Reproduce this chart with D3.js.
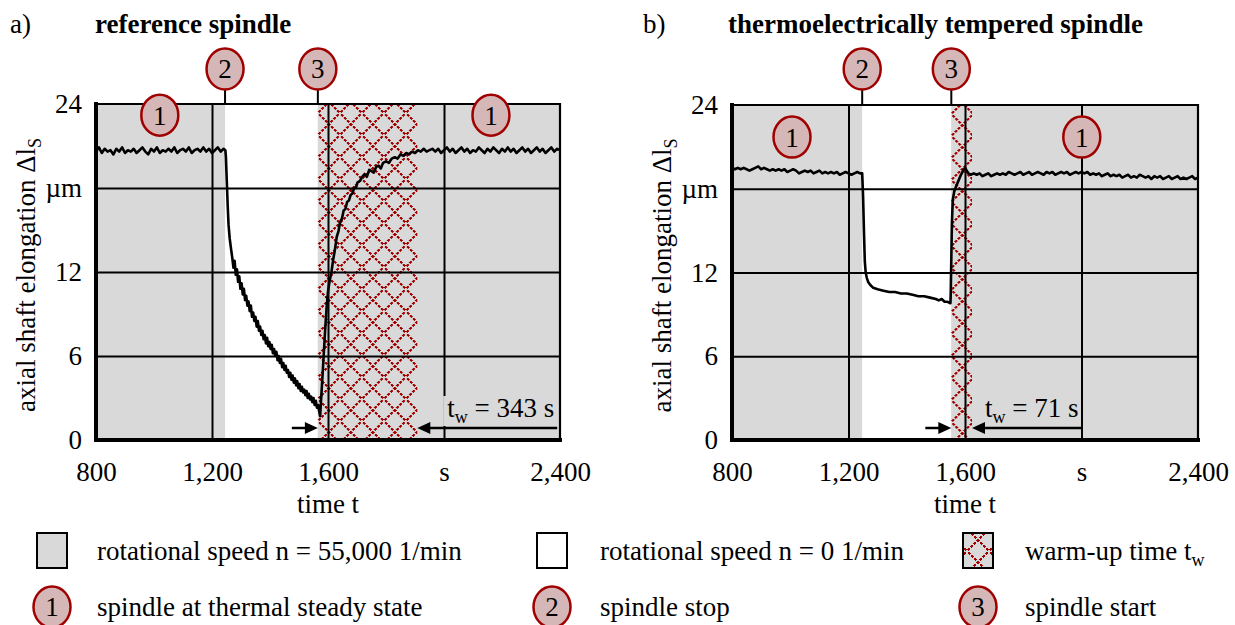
<!DOCTYPE html>
<html>
<head>
<meta charset="utf-8">
<script src="https://cdn.jsdelivr.net/npm/d3@7"></script>
<style>
body { margin: 0; background: #fff; }
text { font-family: "Liberation Serif", "Times New Roman", serif; fill: #000; }
</style>
</head>
<body>
<svg id="chart" width="1235" height="625"></svg>
<script>
// measured elongation, [time in s, elongation in µm]
var refData = [
  [800,20.6],[810,20.9],[820,20.5],[830,20.8],[840,20.6],[850,20.7],[860,20.4],[870,20.8],[880,20.6],[890,20.9],
  [900,20.5],[910,20.7],[920,20.6],[930,20.8],[940,20.5],[950,20.7],[960,20.9],[970,20.6],[980,20.4],[990,20.8],
  [1000,20.6],[1010,20.9],[1020,20.5],[1030,20.7],[1040,20.6],[1050,20.8],[1060,20.6],[1070,20.9],[1080,20.5],[1090,20.7],
  [1100,20.8],[1110,20.6],[1120,20.9],[1130,20.5],[1140,20.7],[1150,20.8],[1160,20.6],[1170,20.9],[1180,20.6],[1190,20.8],
  [1200,20.5],[1210,20.7],[1220,20.9],[1230,20.6],[1240,20.8],[1246,20.7],
  [1248,20.2],[1251,18.5],[1254,16.8],[1257,15.4],[1261,14.4],[1266,13.6],
  [1270,13.0],[1274,12.3],[1278,12.8],[1282,11.8],[1286,12.2],[1290,11.3],[1294,11.7],[1298,10.8],[1302,11.2],[1306,10.4],
  [1310,10.8],[1314,10.0],[1318,10.3],[1322,9.6],[1326,9.9],[1330,9.2],[1334,9.6],[1338,8.8],[1342,9.1],[1346,8.5],
  [1350,8.8],[1354,8.1],[1358,8.5],[1362,7.8],[1366,8.1],[1370,7.5],[1374,7.8],[1378,7.2],[1382,7.5],[1386,6.9],
  [1390,7.3],[1394,6.7],[1398,7.0],[1402,6.5],[1406,6.8],[1410,6.2],[1414,6.5],[1418,6.0],[1422,6.3],[1426,5.7],
  [1430,6.0],[1434,5.5],[1438,5.8],[1442,5.2],[1446,5.5],[1450,5.0],[1454,5.3],[1458,4.8],[1462,5.0],[1466,4.5],
  [1470,4.8],[1474,4.3],[1478,4.6],[1482,4.1],[1486,4.4],[1490,3.9],[1494,4.2],[1498,3.7],[1502,4.0],[1506,3.5],
  [1510,3.8],[1514,3.4],[1518,3.6],[1522,3.2],[1526,3.5],[1530,3.0],[1534,3.3],[1538,2.9],[1542,3.1],[1546,2.7],
  [1550,3.0],[1554,2.5],[1558,2.8],[1562,2.3],[1566,2.5],[1570,2.0],[1573,1.7],
  [1576,2.8],[1580,4.2],[1585,6.0],[1590,7.8],[1595,9.4],[1600,10.6],[1606,11.4],[1612,12.0],[1618,12.9],[1624,13.6],
  [1630,14.5],[1636,14.9],[1642,15.6],[1648,15.8],[1654,16.4],[1660,16.5],[1666,17.0],[1672,17.1],[1678,17.5],[1684,17.6],
  [1690,18.0],[1696,18.0],[1702,18.4],[1710,18.5],[1718,18.8],[1726,19.0],[1734,18.8],[1742,19.3],[1750,19.2],[1758,19.1],
  [1766,19.5],[1774,19.6],[1782,19.4],[1790,19.8],[1800,19.9],[1810,19.8],[1820,20.1],[1830,20.2],[1840,20.1],[1850,20.4],
  [1860,20.3],[1870,20.5],[1880,20.4],[1890,20.6],[1900,20.5],[1910,20.7],[1920,20.6],[1930,20.8],[1940,20.6],[1950,20.7],
  [1960,20.8],[1970,20.6],[1980,20.8],[1990,20.5],[2000,20.7],[2010,20.9],[2020,20.6],[2030,20.8],[2040,20.5],[2050,20.7],
  [2060,20.9],[2070,20.6],[2080,20.8],[2090,20.5],[2100,20.7],[2110,20.6],[2120,20.9],[2130,20.7],[2140,20.5],[2150,20.8],
  [2160,20.6],[2170,20.9],[2180,20.7],[2190,20.5],[2200,20.8],[2210,20.6],[2220,20.9],[2230,20.6],[2240,20.8],[2250,20.5],
  [2260,20.7],[2270,20.9],[2280,20.6],[2290,20.8],[2300,20.5],[2310,20.7],[2320,20.9],[2330,20.6],[2340,20.8],[2350,20.5],
  [2360,20.7],[2370,20.9],[2380,20.6],[2390,20.8],[2400,20.7]
]

var tempData = [
  [800,19.5],[810,19.4],[820,19.5],[830,19.4],[840,19.5],[850,19.4],[860,19.3],[870,19.4],[880,19.5],[890,19.6],
  [900,19.4],[910,19.5],[920,19.4],[930,19.3],[940,19.4],[950,19.3],[960,19.4],[970,19.3],[980,19.4],[990,19.2],
  [1000,19.3],[1010,19.4],[1020,19.3],[1030,19.1],[1040,19.2],[1050,19.3],[1060,19.2],[1070,19.3],[1080,19.1],[1090,19.2],
  [1100,19.3],[1110,19.1],[1120,19.2],[1130,19.1],[1140,19.2],[1150,19.1],[1160,19.2],[1170,19.0],[1180,19.1],[1190,19.2],
  [1200,19.1],[1210,19.0],[1220,19.1],[1230,19.2],[1240,19.1],[1247,19.1],
  [1250,17.5],[1253,15.0],[1256,12.8],[1259,12.0],[1263,11.6],[1268,11.3],[1275,11.1],[1285,10.9],[1300,10.8],[1320,10.7],
  [1340,10.6],[1360,10.6],[1380,10.5],[1400,10.5],[1420,10.4],[1440,10.3],[1460,10.3],[1480,10.2],[1500,10.1],[1510,10.0],
  [1520,10.1],[1530,9.9],[1540,9.9],[1550,9.8],
  [1551,10.5],[1553,13.0],[1555,15.5],[1558,17.2],[1563,17.8],[1570,18.2],[1578,18.6],[1586,19.0],[1594,19.3],[1600,19.5],
  [1606,19.3],[1612,19.1],[1620,19.0],[1630,19.1],[1640,19.0],[1650,19.1],[1660,18.9],[1670,19.0],[1680,19.1],[1690,18.9],
  [1700,19.0],[1710,19.1],[1720,19.0],[1730,19.1],[1740,19.0],[1750,19.2],[1760,19.1],[1770,19.0],[1780,19.1],[1790,19.2],
  [1800,19.0],[1810,19.1],[1820,19.2],[1830,19.0],[1840,19.1],[1850,19.2],[1860,19.1],[1870,19.0],[1880,19.2],[1890,19.1],
  [1900,19.2],[1910,19.0],[1920,19.1],[1930,19.2],[1940,19.1],[1950,19.2],[1960,19.0],[1970,19.1],[1980,19.2],[1990,19.1],
  [2000,19.2],[2010,19.1],[2020,19.2],[2030,19.0],[2040,19.1],[2050,19.0],[2060,19.1],[2070,18.9],[2080,19.0],[2090,19.1],
  [2100,18.9],[2110,19.0],[2120,18.9],[2130,19.0],[2140,18.8],[2150,18.9],[2160,19.0],[2170,18.8],[2180,18.9],[2190,18.8],
  [2200,19.0],[2210,18.9],[2220,18.8],[2230,18.9],[2240,18.7],[2250,18.9],[2260,18.8],[2270,18.9],[2280,18.7],[2290,18.8],
  [2300,18.9],[2310,18.7],[2320,18.8],[2330,18.9],[2340,18.7],[2350,18.8],[2360,18.7],[2370,18.8],[2380,18.9],[2390,18.7],
  [2400,18.8]
]

var panelLabels = ["a)", "b)"]
var panelTitles = ["reference spindle", "thermoelectrically tempered spindle"]
var stopTimes = [1245, 1247]      // spindle stop (2)
var startTimes = [1565, 1553]     // spindle start (3)
var warmUp = [343, 71]            // t_w in s
var steadyTimes = [[1020, 2162], [1006, 2001]]   // where the (1) markers sit
var steadyLevel = [23.2, 21.7]
var twLabelEnd = [2380, 1990]

var xTicks = [800, 1200, 1600, 2000, 2400]
var xTickLabels = ["800", "1,200", "1,600", "s", "2,400"]
var yTicks = [0, 6, 12, 18, 24]
var yTickLabels = ["0", "6", "12", "µm", "24"]

var legendBoxLabels = ["rotational speed n = 55,000 1/min", "rotational speed n = 0 1/min", "warm-up time t"]
var legendMarkerLabels = ["spindle at thermal steady state", "spindle stop", "spindle start"]

var GRAY = "#d9d9d9", RED = "#a00000", PINK = "#d5b7b7"
var FS = 27

var svg = d3.select("#chart")
var defs = svg.append("defs")

function hatch(id, ox, oy) {
    var p = defs.append("pattern")
        .attr("id", id)
        .attr("patternUnits", "userSpaceOnUse")
        .attr("width", 22).attr("height", 22)
        .attr("patternTransform", "translate(" + ox + "," + oy + ")")
    p.append("rect").attr("width", 22).attr("height", 22).attr("fill", GRAY)
    p.append("path")
        .attr("d", "M-2,-2L24,24M24,-2L-2,24")
        .attr("stroke", RED)
        .attr("stroke-width", 2.6)
        .attr("stroke-dasharray", "3 1.3")
        .attr("shape-rendering", "crispEdges")
}

function marker(g, cx, cy, n) {
    g.append("ellipse")
        .attr("cx", cx).attr("cy", cy)
        .attr("rx", 18.5).attr("ry", 20.5)
        .attr("fill", PINK)
        .attr("stroke", RED)
        .attr("stroke-width", 2.5)
    g.append("text")
        .attr("x", cx).attr("y", cy)
        .attr("dy", "0.35em")
        .attr("text-anchor", "middle")
        .style("font-size", FS + "px")
        .text(n)
}

var layouts = [
    {x0: 96, x1: 560, y0: 104, y1: 440, lx: 10},
    {x0: 732, x1: 1198, y0: 105, y1: 440, lx: 643}
]
var datasets = [refData, tempData]

layouts.forEach(function(L, i) {
    var g = svg.append("g")
    var x = d3.scaleLinear().domain([800, 2400]).range([L.x0, L.x1])
    var y = d3.scaleLinear().domain([0, 24]).range([L.y1, L.y0])
    var h = L.y1 - L.y0, w = L.x1 - L.x0

    // operating state backgrounds
    g.append("rect")
        .attr("x", x(800)).attr("y", y(24))
        .attr("width", x(stopTimes[i]) - x(800)).attr("height", h)
        .attr("fill", GRAY)
    g.append("rect")
        .attr("x", x(startTimes[i])).attr("y", y(24))
        .attr("width", x(2400) - x(startTimes[i])).attr("height", h)
        .attr("fill", GRAY)
    hatch("hatch" + i, x(startTimes[i]), y(24) + 9)
    g.append("rect")
        .attr("x", x(startTimes[i])).attr("y", y(24))
        .attr("width", x(startTimes[i] + warmUp[i]) - x(startTimes[i])).attr("height", h)
        .attr("fill", "url(#hatch" + i + ")")

    // grid
    var gx = g.append("g")
        .attr("transform", "translate(0," + L.y1 + ")")
        .call(d3.axisBottom(x).tickValues([1200, 1600, 2000]).tickSize(-h).tickFormat(""))
    var gy = g.append("g")
        .attr("transform", "translate(" + L.x0 + ",0)")
        .call(d3.axisLeft(y).tickValues([6, 12, 18]).tickSize(-w).tickFormat(""))
    ;[gx, gy].forEach(function(a) {
        a.select(".domain").remove()
        a.selectAll("line").attr("stroke", "#000").attr("stroke-width", 2)
    })

    // warm-up time annotation
    var ty = y(0) - 12
    var lab = g.append("text")
        .attr("x", x(twLabelEnd[i])).attr("y", y(0) - 23)
        .attr("text-anchor", "end")
        .style("font-size", FS + "px")
    lab.append("tspan").text("t")
    lab.append("tspan").attr("dy", 6).style("font-size", "18px").text("w")
    lab.append("tspan").attr("dy", -6).text(" = " + warmUp[i] + " s")
    var bb = lab.node().getBBox()
    g.insert("rect", function() { return lab.node() })
        .attr("x", bb.x - 4).attr("y", bb.y + 3)
        .attr("width", bb.width + 6).attr("height", bb.height - 4)
        .attr("fill", GRAY)

    var tStart = x(startTimes[i]), tEnd = x(startTimes[i] + warmUp[i])
    g.append("line")
        .attr("x1", tStart - 26).attr("x2", tStart - 10)
        .attr("y1", ty).attr("y2", ty)
        .attr("stroke", "#000").attr("stroke-width", 2.5)
    g.append("path")
        .attr("d", "M" + tStart + "," + ty + "l-13,-6v12z")
        .attr("fill", "#000")
    g.append("line")
        .attr("x1", tEnd + 10).attr("x2", x(twLabelEnd[i]) + 3)
        .attr("y1", ty).attr("y2", ty)
        .attr("stroke", "#000").attr("stroke-width", 2.5)
    g.append("path")
        .attr("d", "M" + tEnd + "," + ty + "l13,-6v12z")
        .attr("fill", "#000")

    // measurement
    g.append("path")
        .datum(datasets[i])
        .attr("d", d3.line().x(function(d) { return x(d[0]) }).y(function(d) { return y(d[1]) }))
        .attr("fill", "none")
        .attr("stroke", "#000")
        .attr("stroke-width", 2.6)
        .attr("stroke-linejoin", "round")

    // frame
    g.append("path")
        .attr("d", "M" + L.x0 + "," + L.y0 + "H" + L.x1 + "V" + L.y1)
        .attr("fill", "none").attr("stroke", "#000").attr("stroke-width", 2.2)
    g.append("path")
        .attr("d", "M" + L.x0 + "," + L.y0 + "V" + L.y1 + "H" + L.x1)
        .attr("fill", "none").attr("stroke", "#000").attr("stroke-width", 4)
        .attr("stroke-linecap", "square")

    // tick labels
    var ax = g.append("g")
        .attr("transform", "translate(0," + L.y1 + ")")
        .call(d3.axisBottom(x).tickValues(xTicks).tickSize(0).tickPadding(22)
            .tickFormat(function(d, k) { return xTickLabels[k] }))
    var ay = g.append("g")
        .attr("transform", "translate(" + L.x0 + ",0)")
        .call(d3.axisLeft(y).tickValues(yTicks).tickSize(0).tickPadding(14)
            .tickFormat(function(d, k) { return yTickLabels[k] }))
    ;[ax, ay].forEach(function(a) {
        a.select(".domain").remove()
        a.selectAll("text").style("font-size", FS + "px").style("font-family", null)
    })

    // axis titles
    g.append("text")
        .attr("x", (L.x0 + L.x1) / 2).attr("y", 513)
        .attr("text-anchor", "middle")
        .style("font-size", FS + "px")
        .text("time t")
    var yt = g.append("text")
        .attr("transform", "translate(" + (L.x0 - 61) + "," + ((L.y0 + L.y1) / 2 + 3) + ") rotate(-90)")
        .attr("text-anchor", "middle")
        .style("font-size", FS + "px")
    yt.append("tspan").text("axial shaft elongation Δl")
    yt.append("tspan").attr("dy", 6).style("font-size", "18px").text("S")

    // panel headings
    g.append("text").attr("x", L.lx).attr("y", 33).style("font-size", FS + "px").text(panelLabels[i])
    g.append("text").attr("x", L.lx + 85).attr("y", 33)
        .style("font-size", FS + "px").style("font-weight", "bold")
        .text(panelTitles[i])

    // event markers
    ;[[stopTimes[i], "2"], [startTimes[i], "3"]].forEach(function(e) {
        g.append("line")
            .attr("x1", x(e[0])).attr("x2", x(e[0]))
            .attr("y1", 90).attr("y2", L.y0)
            .attr("stroke", "#000").attr("stroke-width", 2)
        marker(g, x(e[0]), 69, e[1])
    })
    steadyTimes[i].forEach(function(t) {
        marker(g, x(t), y(steadyLevel[i]), "1")
    })
})

// legend
var leg = svg.append("g")
var boxX = [37, 537, 963], textX = [97, 600, 1025]
hatch("hatchLeg", 963 + 4, 533 - 4)
legendBoxLabels.forEach(function(s, k) {
    leg.append("rect")
        .attr("x", boxX[k]).attr("y", 533)
        .attr("width", 30).attr("height", 35)
        .attr("fill", k == 0 ? GRAY : k == 1 ? "#fff" : "url(#hatchLeg)")
        .attr("stroke", "#000").attr("stroke-width", 2)
    var t = leg.append("text")
        .attr("x", textX[k]).attr("y", 560)
        .style("font-size", FS + "px")
        .text(s)
    if (k == 2) t.append("tspan").attr("dy", 6).style("font-size", "18px").text("w")
})
legendMarkerLabels.forEach(function(s, k) {
    marker(leg, boxX[k] + 15, 607, String(k + 1))
    leg.append("text")
        .attr("x", textX[k]).attr("y", 616)
        .style("font-size", FS + "px")
        .text(s)
})
</script>
</body>
</html>
